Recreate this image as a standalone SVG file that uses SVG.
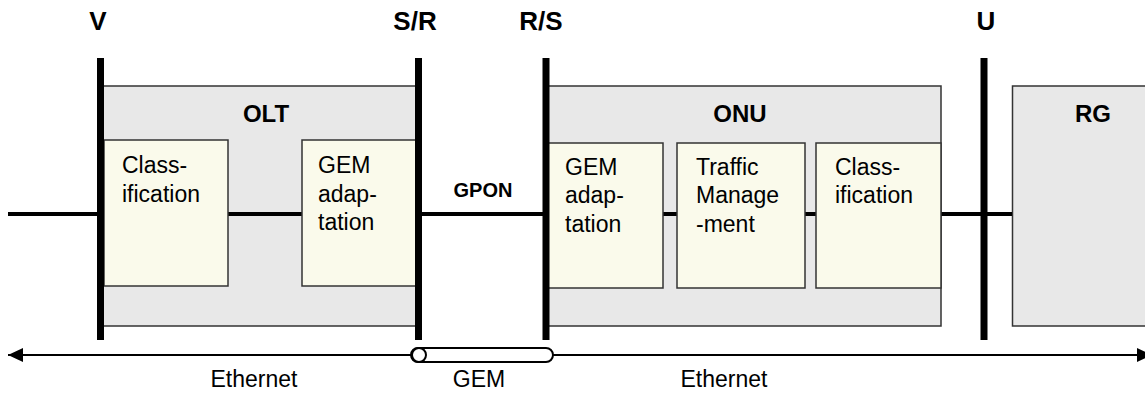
<svg xmlns="http://www.w3.org/2000/svg" width="1145" height="393" viewBox="0 0 1145 393">
<defs>
<style>
.outer{fill:#e8e8e8;stroke:#333;stroke-width:1.5}
.inner{fill:#fafaeb;stroke:#333;stroke-width:1.5}
.bar{fill:#000}
.t{font-family:"Liberation Sans",Arial,sans-serif;font-size:23px;fill:#000}
.b{font-family:"Liberation Sans",Arial,sans-serif;font-weight:bold;font-size:24px;fill:#000;text-anchor:middle}
.h{font-size:26px}
.c{text-anchor:middle}
.link{stroke:#000;stroke-width:4;fill:none}
.eth{stroke:#000;stroke-width:2;fill:none}
</style>
<marker id="ah" viewBox="0 0 15 14" refX="15" refY="7" markerWidth="15" markerHeight="14" markerUnits="userSpaceOnUse" orient="auto-start-reverse">
<path d="M0,0 L15,7 L0,14 Z" fill="#000"/>
</marker>
</defs>
<rect width="1145" height="393" fill="#fff"/>

<g id="interfaces">
<text class="b h" x="98" y="30">V</text>
<text class="b h" x="415" y="30">S/R</text>
<text class="b h" x="541" y="30">R/S</text>
<text class="b h" x="986" y="30">U</text>
</g>

<g id="OLT">
<rect class="outer" x="100" y="86" width="318" height="240"/>
<text class="b" x="266" y="122">OLT</text>
</g>
<g id="ONU">
<rect class="outer" x="546" y="86" width="395" height="240"/>
<text class="b" x="740" y="122">ONU</text>
</g>
<g id="RG">
<rect class="outer" x="1012.5" y="86" width="150" height="240"/>
<text class="b" x="1093" y="122">RG</text>
</g>

<g id="connectors">
<line class="link" x1="8" y1="214" x2="1012" y2="214"/>
<line class="eth" x1="8" y1="355" x2="1152" y2="355" marker-start="url(#ah)" marker-end="url(#ah)"/>
<text class="b" x="483" y="197" style="font-size:20px">GPON</text>
</g>

<g id="olt-classification">
<rect class="inner" x="104" y="140" width="124" height="146"/>
<text class="t" x="122" y="173">Class-</text>
<text class="t" x="122" y="202">ification</text>
</g>
<g id="olt-gem-adaptation">
<rect class="inner" x="302" y="140" width="116" height="146"/>
<text class="t" x="318" y="173">GEM</text>
<text class="t" x="318" y="202">adap-</text>
<text class="t" x="318" y="230">tation</text>
</g>
<g id="onu-gem-adaptation">
<rect class="inner" x="546" y="143" width="117" height="145"/>
<text class="t" x="565" y="175">GEM</text>
<text class="t" x="565" y="203">adap-</text>
<text class="t" x="565" y="232">tation</text>
</g>
<g id="onu-traffic-management">
<rect class="inner" x="677" y="143" width="128" height="145"/>
<text class="t" x="696" y="175">Traffic</text>
<text class="t" x="696" y="203">Manage</text>
<text class="t" x="696" y="232">-ment</text>
</g>
<g id="onu-classification">
<rect class="inner" x="816" y="143" width="125" height="145"/>
<text class="t" x="835" y="175">Class-</text>
<text class="t" x="835" y="203">ification</text>
</g>

<g id="bars">
<rect class="bar" x="97" y="58" width="7" height="282"/>
<rect class="bar" x="415" y="58" width="7" height="282"/>
<rect class="bar" x="542.5" y="58" width="7" height="282"/>
<rect class="bar" x="980.5" y="58" width="7" height="282"/>
</g>

<g id="gem-tunnel">
<rect x="411" y="348" width="142" height="14" rx="7" ry="7" fill="#fff" stroke="#000" stroke-width="2"/>
<circle cx="419" cy="355" r="7" fill="#fff" stroke="#000" stroke-width="2"/>
</g>

<g id="bottom-labels">
<text class="t c" x="254" y="387">Ethernet</text>
<text class="t c" x="479" y="387">GEM</text>
<text class="t c" x="724" y="387">Ethernet</text>
</g>
</svg>
